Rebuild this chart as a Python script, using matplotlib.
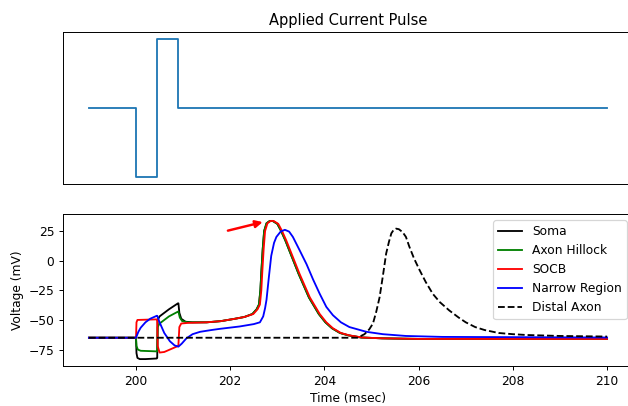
import matplotlib
matplotlib.use("Agg")
import matplotlib.pyplot as plt

# ---- data ----
pulse_t = [199, 200, 200.45, 200.9, 210]
pulse_i = [0, -1, 1, 0, 0]

soma_t = [199, 200, 200.01, 200.03, 200.08, 200.2, 200.44, 200.45, 200.46, 200.5, 200.7, 200.89, 200.9,
          200.92, 200.96, 201.05, 201.2, 201.5, 201.8, 202.1, 202.3, 202.47, 202.56, 202.61, 202.64, 202.66,
          202.69, 202.72, 202.77, 202.84, 202.9, 203.0, 203.08, 203.17, 203.31, 203.45, 203.67, 203.88, 204.02,
          204.16, 204.33, 204.51, 204.78, 205.22, 206, 210]
soma_v = [-65, -65, -78, -82, -83, -83, -82.5, -82, -50, -47, -41, -36, -36,
          -44, -49, -51.5, -52, -52, -51, -49, -47.5, -45, -41, -37, -25, -10,
          10, 25, 31.5, 33.5, 33.5, 31, 25, 17, 3, -11, -31, -45, -52,
          -57, -61, -63, -64.8, -65.5, -66, -66]

hill_t = [199, 200, 200.01, 200.04, 200.1, 200.44, 200.45, 200.46, 200.5, 200.7, 200.89, 200.9,
          200.93, 200.98, 201.1, 201.5, 201.8, 202.1, 202.3, 202.47, 202.56, 202.61, 202.64, 202.66,
          202.69, 202.72, 202.77, 202.84, 202.9, 203.0, 203.08, 203.17, 203.31, 203.45, 203.67, 203.88, 204.02,
          204.16, 204.33, 204.51, 204.78, 205.22, 206, 210]
hill_v = [-65, -65, -72, -75, -76, -76.5, -76, -56, -53, -47, -43, -43,
          -48, -51, -52, -52, -51, -49, -47.5, -45, -41, -37, -25, -10,
          10, 25, 31.5, 33.5, 33.5, 31, 25, 17, 3, -11, -31, -45, -52,
          -57, -61, -63, -64.8, -65.5, -66, -66]

socb_t = [199, 200, 200.01, 200.03, 200.44, 200.45, 200.46, 200.5, 200.6, 200.89, 200.9, 200.92, 200.96,
          201.1, 201.5, 201.8, 202.1, 202.3, 202.49, 202.58, 202.63, 202.66, 202.68, 202.71, 202.74, 202.79,
          202.86, 202.92, 203.02, 203.1, 203.19, 203.33, 203.47, 203.69, 203.9, 204.04, 204.18, 204.35,
          204.53, 204.8, 205.24, 206, 210]
socb_v = [-65, -65, -52, -50, -49.5, -50, -72, -77.5, -77, -72, -71, -56, -53,
          -52.5, -52, -51, -49, -47.5, -45, -41, -37, -25, -10, 10, 25, 31.5,
          33.5, 33.5, 31, 25, 17, 3, -11, -31, -45, -52, -57, -61,
          -63, -64.8, -65.5, -66, -66]

narrow_t = [199, 200, 200.05, 200.1, 200.2, 200.3, 200.44, 200.45, 200.5, 200.6, 200.72, 200.82, 200.9,
            200.97, 201.07, 201.2, 201.36, 201.6, 201.78, 202.2, 202.5, 202.63, 202.7, 202.74, 202.77,
            202.82, 202.87, 202.93, 202.98, 203.07, 203.16, 203.25, 203.33, 203.47, 203.62, 203.76, 203.9,
            204.04, 204.18, 204.35, 204.53, 204.89, 205.24, 205.73, 206.5, 210]
narrow_v = [-65, -65, -60, -56.5, -52, -49, -46.5, -46.5, -52, -61, -68, -71.5, -72.5,
            -70, -65.5, -62, -60, -58.5, -57.5, -55.5, -53.5, -52, -47, -40, -33,
            -14, 4, 15, 20, 24.5, 26, 24.5, 20, 9, -3, -16, -28,
            -39, -46, -52, -56, -60, -62, -63.5, -64.3, -64.8]

distal_t = [199, 204.7, 204.85, 204.95, 205.03, 205.1, 205.17, 205.24, 205.31, 205.37, 205.42, 205.47,
            205.52, 205.58, 205.66, 205.73, 205.8, 205.9, 206.02, 206.15, 206.3, 206.45, 206.65, 206.85,
            207.0, 207.2, 207.4, 207.7, 208.0, 208.3, 209, 210]
distal_v = [-65, -65, -62, -58, -53, -43, -31, -13, 6, 16, 23, 26,
            27, 26.5, 24, 20, 12, 2, -8, -18, -28, -35, -42, -48,
            -52, -56, -58.5, -61, -62, -62.7, -63.5, -64]

arrow_tail = (201.9, 24.8)
arrow_head = (202.74, 33.0)

# ---- figure ----
DPI = 88
W, H = 628, 406
fig = plt.figure(figsize=(W / DPI, H / DPI), dpi=DPI)
left, right = 63, 633
ax1 = fig.add_axes([left / W, 1 - 184 / H, (right - left) / W, (184 - 32) / H])
ax2 = fig.add_axes([left / W, 1 - 366 / H, (right - left) / W, (366 - 214) / H])

ax1.plot(pulse_t, pulse_i, drawstyle='steps-post', color='C0')
ax1.set_xticks([])
ax1.set_yticks([])
ax1.set_title('Applied Current Pulse')

ax2.plot(soma_t, soma_v, color='black', label='Soma')
ax2.plot(hill_t, hill_v, color='green', label='Axon Hillock')
ax2.plot(socb_t, socb_v, color='red', label='SOCB')
ax2.plot(narrow_t, narrow_v, color='blue', label='Narrow Region')
ax2.plot(distal_t, distal_v, color='black', linestyle='--', label='Distal Axon')
ax2.annotate('', xy=arrow_head, xytext=arrow_tail,
             arrowprops=dict(arrowstyle='-|>', color='red', lw=2, mutation_scale=12))
ax2.set_yticks([-75, -50, -25, 0, 25])
ax2.set_xticks([200, 202, 204, 206, 208, 210])
ax2.set_xlabel('Time (msec)')
ax2.set_ylabel('Voltage (mV)')
ax2.legend(loc='upper right')

fig.savefig('out.png', dpi=DPI)
